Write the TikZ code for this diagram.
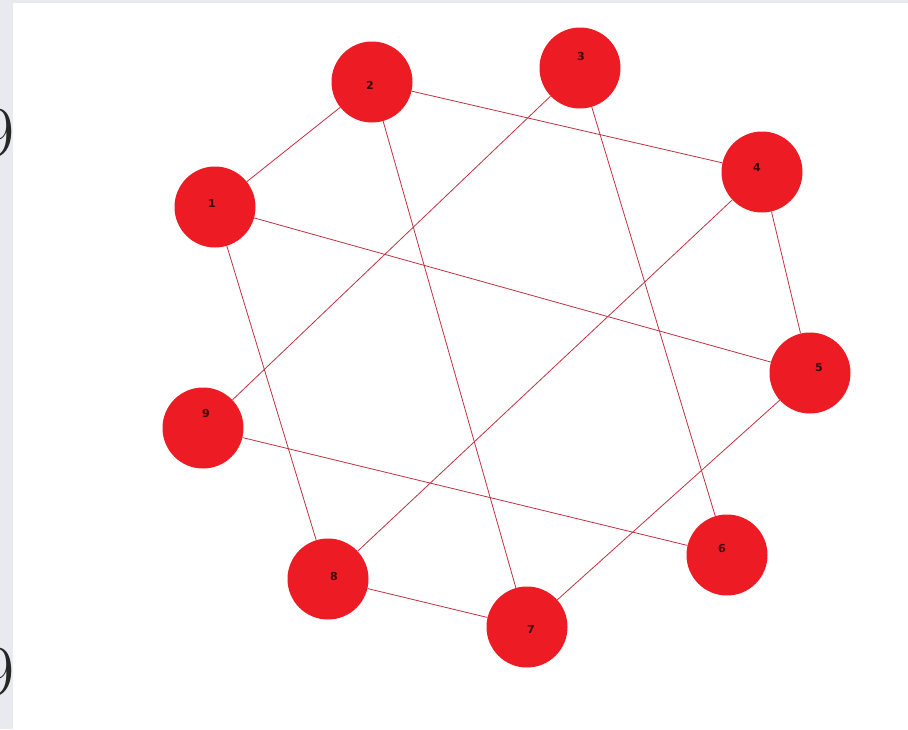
\documentclass[tikz,border=0pt]{standalone}
\usepackage{fontspec}
\newfontfamily\lblfont{DejaVu Sans}
\definecolor{bg}{RGB}{233,234,240}
\definecolor{vred}{RGB}{237,28,36}
\definecolor{ered}{RGB}{190,50,65}
\definecolor{ltxt}{RGB}{60,5,5}
\tikzset{
  vert/.style={circle, fill=vred, minimum size=81pt, inner sep=0pt},
  lbl/.style={inner sep=0pt, font=\lblfont\bfseries\fontsize{11}{11}\selectfont, text=ltxt},
  edge/.style={draw=ered, line width=0.8pt}
}
\begin{document}
\begin{tikzpicture}[x=1pt,y=-1pt]
\useasboundingbox (0,0) rectangle (908,729);
\fill[bg] (0,0) rectangle (908,729);
\node[anchor=center, font=\fontsize{72}{72}\selectfont, text=black!85, inner sep=0pt] (g1) at (-2,133) {9};
\node[anchor=center, font=\fontsize{72}{72}\selectfont, text=black!85, inner sep=0pt] (g2) at (-2,672) {9};
\fill[white] (13,3) rectangle (908,729);
\node[vert] (n1) at (215,207) {};
\node[vert] (n2) at (372,82) {};
\node[vert] (n3) at (580,68) {};
\node[vert] (n4) at (762,172) {};
\node[vert] (n5) at (810,373) {};
\node[vert] (n6) at (727,555) {};
\node[vert] (n7) at (527,627) {};
\node[vert] (n8) at (328,579) {};
\node[vert] (n9) at (203,428) {};
\node[lbl] (l1) at (212,203) {1};
\node[lbl] (l2) at (370,85) {2};
\node[lbl] (l3) at (581,56) {3};
\node[lbl] (l4) at (757,167) {4};
\node[lbl] (l5) at (819,368) {5};
\node[lbl] (l6) at (722,548) {6};
\node[lbl] (l7) at (531,629) {7};
\node[lbl] (l8) at (334,576) {8};
\node[lbl] (l9) at (206,413) {9};
\path[edge] (n1) -- (n2);
\path[edge] (n2) -- (n4);
\path[edge] (n3) -- (n9);
\path[edge] (n3) -- (n6);
\path[edge] (n1) -- (n5);
\path[edge] (n2) -- (n7);
\path[edge] (n4) -- (n5);
\path[edge] (n4) -- (n8);
\path[edge] (n1) -- (n8);
\path[edge] (n9) -- (n6);
\path[edge] (n5) -- (n7);
\path[edge] (n8) -- (n7);
\end{tikzpicture}
\end{document}
